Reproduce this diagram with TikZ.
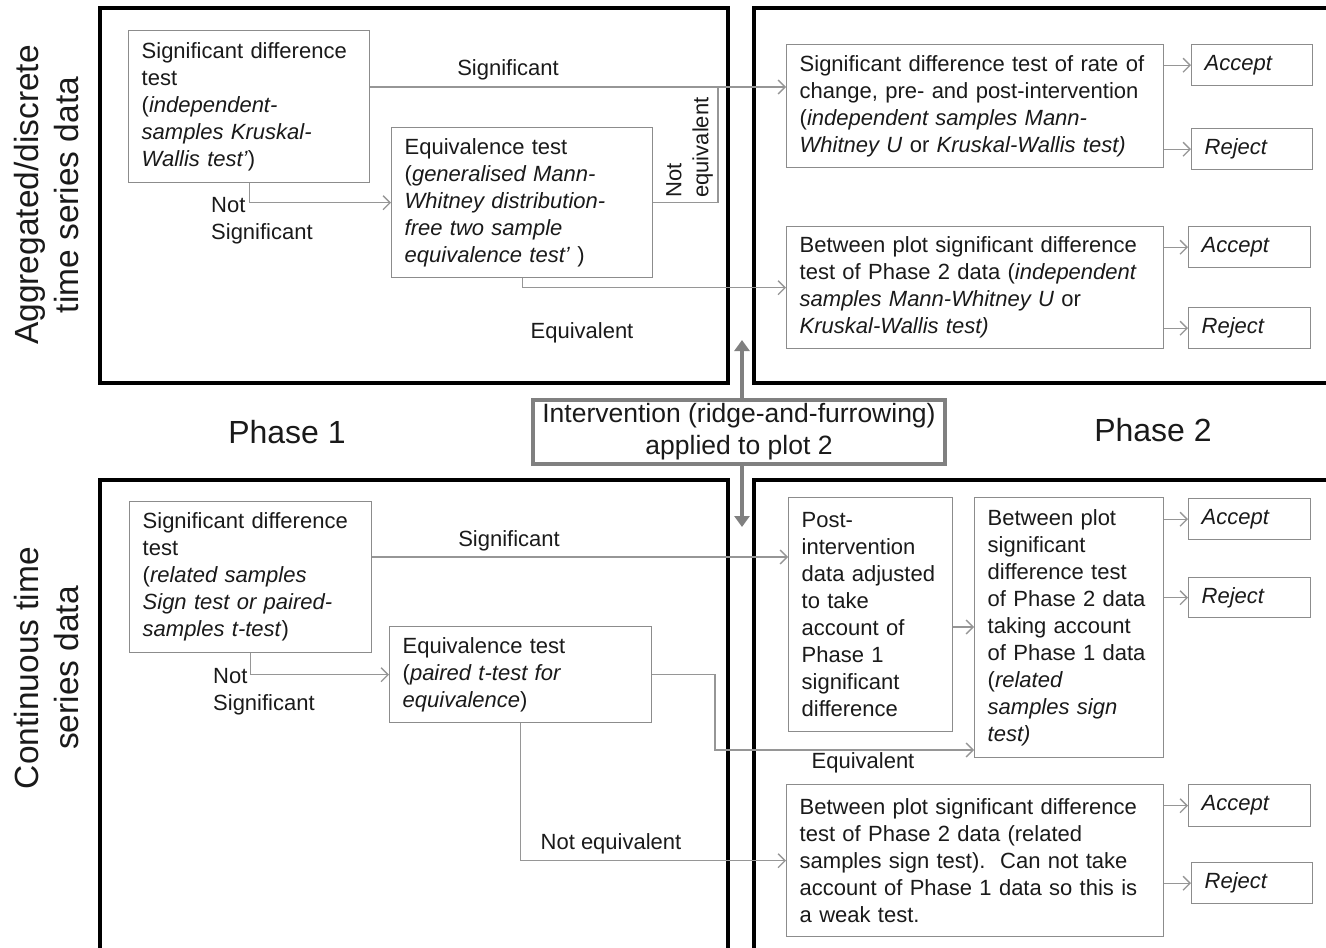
\documentclass[tikz,border=0pt]{standalone}
\usepackage{fontspec}
\setmainfont{Liberation Sans}
\usetikzlibrary{arrows.meta}

\definecolor{boxgray}{HTML}{8C8C8C}
\definecolor{linegray}{HTML}{969696}
\definecolor{txt}{HTML}{1A1A1A}
\definecolor{bargray}{HTML}{808080}

\newcommand{\diagtext}{\fontsize{22}{27}\selectfont}
\newcommand{\rowtext}{\fontsize{33.5}{40}\selectfont}
\newcommand{\phasetext}{\fontsize{32}{36}\selectfont}
\newcommand{\ivtext}{\fontsize{26.5}{32}\selectfont}

\tikzset{
  frame/.style={draw=black, line width=4pt},
  testbox/.style={draw=boxgray, line width=1.4pt, fill=white, anchor=north west,
    align=left, inner xsep=13pt, inner ysep=0pt, font=\diagtext, text=txt},
  choice/.style={testbox, font=\diagtext\itshape},
  flow/.style={draw=linegray, line width=1.3pt,
    -{Straight Barb[length=7pt, width=14pt, line width=1.3pt]}},
  link/.style={draw=linegray, line width=1.3pt},
  lbl/.style={font=\diagtext, text=txt, inner sep=0pt},
  bigarrow/.style={draw=bargray, line width=4.5pt, -{Triangle[length=11pt, width=15pt]}},
}

\begin{document}
\begin{tikzpicture}[x=1pt, y=-1pt]
\useasboundingbox (0,0) rectangle (1326,948);
\clip (0,0) rectangle (1326,948);

% quadrant frames
\draw[frame] (100,8) rectangle (728,383);
\draw[frame] (754,8) rectangle (1345,383);
\draw[frame] (100,480) rectangle (728,970);
\draw[frame] (754,480) rectangle (1345,970);

% row and phase headings
\node[rotate=90, align=center, font=\rowtext, text=txt] (rowA) at (47,195)
  {Aggregated/discrete\\time series data};
\node[rotate=90, align=center, font=\rowtext, text=txt] (rowC) at (47,668)
  {Continuous time\\series data};
\node[font=\phasetext, text=txt] (ph1) at (287,432) {Phase 1};
\node[font=\phasetext, text=txt] (ph2) at (1153,430) {Phase 2};

% intervention
\node[draw=bargray, line width=3.2pt, fill=white, align=center, font=\ivtext, text=txt,
  minimum width=412pt, minimum height=64pt, inner sep=0pt] (iv) at (739,432)
  {Intervention (ridge-and-furrowing)\\applied to plot 2};
\coordinate (ivup) at (742,340);
\coordinate (ivdown) at (742,527);
\draw[bigarrow] (iv.north -| ivup) -- (ivup);
\draw[bigarrow] (iv.south -| ivdown) -- (ivdown);

% ---------- aggregated / discrete data ----------
\node[testbox, text width=215pt, minimum height=152pt] (a1) at (128,30)
  {Significant difference\\test\\(\textit{independent-}\\\textit{samples Kruskal-}\\\textit{Wallis test'})};
\node[testbox, text width=235pt, minimum height=150pt] (a2) at (391,127)
  {Equivalence test\\(\textit{generalised Mann-}\\\textit{Whitney distribution-}\\\textit{free two sample}\\\textit{equivalence test'} )};
\node[testbox, text width=351pt, minimum height=123pt] (t1) at (786,44)
  {Significant difference test of rate of\\change, pre- and post-intervention\\(\textit{independent samples Mann-}\\\textit{Whitney U} or \textit{Kruskal-Wallis test)}};
\node[testbox, text width=351pt, minimum height=122pt] (t2) at (786,226)
  {Between plot significant difference\\test of Phase 2 data (\textit{independent}\\\textit{samples Mann-Whitney U} or\\\textit{Kruskal-Wallis test)}};
\node[choice, text width=95pt, minimum height=41pt] (acc1) at (1191,44) {Accept};
\node[choice, text width=95pt, minimum height=41pt] (rej1) at (1191,128) {Reject};
\node[choice, text width=96pt, minimum height=41pt] (acc2) at (1188,226) {Accept};
\node[choice, text width=96pt, minimum height=41pt] (rej2) at (1188,307) {Reject};

\coordinate (sigA) at (0,87);
\coordinate (joinA) at (718,87);
\draw[flow] (a1.east |- sigA) -- (t1.west |- sigA);
\draw[flow] (a1.south) |- (a2.west);
\draw[link] (a2.east) -| (joinA);
\draw[flow] (a2.south) |- (t2.west);
\draw[flow] (t1.east |- acc1.west) -- (acc1.west);
\draw[flow] (t1.east |- rej1.west) -- (rej1.west);
\draw[flow] (t2.east |- acc2.west) -- (acc2.west);
\draw[flow] (t2.east |- rej2.west) -- (rej2.west);

\node[lbl, anchor=base] (lsigA) at (508,75) {Significant};
\node[lbl, anchor=north west, align=left] (lnsA) at (211,197) {Not\\Significant};
\node[lbl, anchor=north west, align=left, rotate=90] (lneA) at (666,198) {Not\\equivalent};
\node[lbl, anchor=base] (leqA) at (582,338) {Equivalent};

% ---------- continuous data ----------
\node[testbox, text width=216pt, minimum height=151pt] (b1) at (129,501)
  {Significant difference\\test\\(\textit{related samples}\\\textit{Sign test or paired-}\\\textit{samples t-test})};
\node[testbox, text width=236pt, minimum height=96pt] (b2) at (389,626)
  {Equivalence test\\(\textit{paired t-test for}\\\textit{equivalence})};
\node[testbox, text width=138pt, minimum height=234pt] (b3) at (788,497)
  {Post-\\intervention\\data adjusted\\to take\\account of\\Phase 1\\significant\\difference};
\node[testbox, text width=163pt, minimum height=260pt] (b4) at (974,497)
  {Between plot\\significant\\difference test\\of Phase 2 data\\taking account\\of Phase 1 data\\(\textit{related}\\\textit{samples sign}\\\textit{test)}};
\node[testbox, text width=351pt, minimum height=152pt] (b5) at (786,784)
  {Between plot significant difference\\test of Phase 2 data (related\\samples sign test).\ \ Can not take\\account of Phase 1 data so this is\\a weak test.};
\node[choice, text width=96pt, minimum height=41pt] (acc3) at (1188,498) {Accept};
\node[choice, text width=96pt, minimum height=40pt] (rej3) at (1188,577) {Reject};
\node[choice, text width=96pt, minimum height=42pt] (acc4) at (1188,784) {Accept};
\node[choice, text width=95pt, minimum height=41pt] (rej4) at (1191,862) {Reject};

\coordinate (sigC) at (0,557);
\coordinate (adjC) at (0,627);
\coordinate (bendC) at (715,750);
\draw[flow] (b1.east |- sigC) -- (b3.west |- sigC);
\draw[flow] (b1.south) |- (b2.west);
\draw[flow] (b2.east) -| (bendC) -- (b4.west |- bendC);
\draw[flow] (b2.south) |- (b5.west);
\draw[flow] (b3.east |- adjC) -- (b4.west |- adjC);
\draw[flow] (b4.east |- acc3.west) -- (acc3.west);
\draw[flow] (b4.east |- rej3.west) -- (rej3.west);
\draw[flow] (b5.east |- acc4.west) -- (acc4.west);
\draw[flow] (b5.east |- rej4.west) -- (rej4.west);

\node[lbl, anchor=base] (lsigC) at (509,546) {Significant};
\node[lbl, anchor=north west, align=left] (lnsC) at (213,668) {Not\\Significant};
\node[lbl, anchor=base] (leqC) at (863,768) {Equivalent};
\node[lbl, anchor=base] (lneC) at (611,849) {Not equivalent};
\end{tikzpicture}
\end{document}
